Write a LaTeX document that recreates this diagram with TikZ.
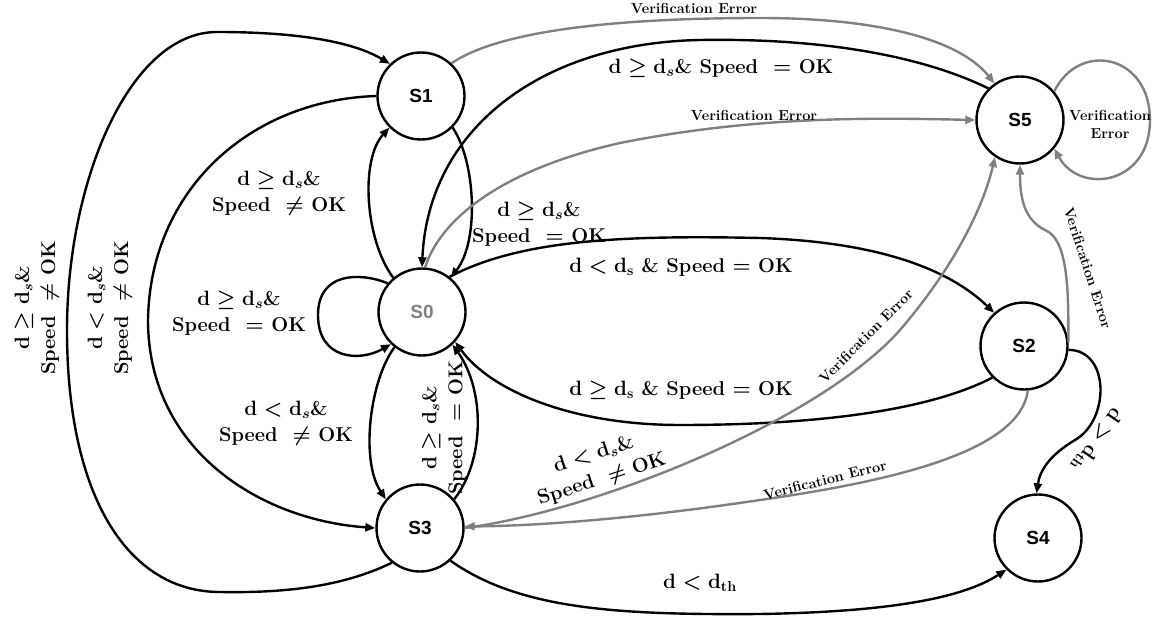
\documentclass[tikz,border=0pt]{standalone}
\usepackage{fontspec}
\newfontfamily\statefont{Liberation Sans}
\usetikzlibrary{arrows.meta}
\definecolor{errgray}{gray}{0.5}

\begin{document}
\begin{tikzpicture}[x=1pt,y=-1pt,
  state/.style={circle,draw,line width=2.4pt,minimum size=87pt,inner sep=0pt,
    font=\statefont\bfseries\fontsize{19}{21}\selectfont},
  tr/.style={line width=2.4pt,-{Triangle[length=10pt,width=8pt]}},
  err/.style={tr,draw=errgray},
  cond/.style={font=\fontsize{20}{26}\selectfont\bfseries\boldmath,align=center,inner sep=1pt},
  errlbl/.style={font=\fontsize{14.5}{18}\selectfont\bfseries,align=center,inner sep=1pt},
]
\useasboundingbox (0,0) rectangle (1154,623);

% states
\node[state] (S1) at (421,96) {S1};
\node[state,text=errgray] (S0) at (422,312) {S0};
\node[state] (S3) at (420,528) {S3};
\node[state] (S5) at (1020,120) {S5};
\node[state] (S2) at (1024,346) {S2};
\node[state] (S4) at (1038,538) {S4};

% left-hand transitions
\draw[tr] (S3.231) .. controls (340,588) and (280,593) .. (220,592)
  .. controls (130,592) and (67,500) .. (67,330)
  .. controls (67,180) and (130,32) .. (217,32)
  .. controls (290,32) and (350,40) .. (S1.134);
\draw[tr] (S1.180) .. controls (250,100) and (150,190) .. (148,320)
  .. controls (148,450) and (260,520) .. (S3.180);
\draw[tr] (S0.130) .. controls (365,240) and (360,160) .. (S1.225);
\draw[tr] (S1.315) .. controls (475,160) and (480,240) .. (S0.50);
\draw[tr] (S0.140) .. controls (360,272) and (318,272) .. (318,315)
  .. controls (318,360) and (360,362) .. (S0.226);
\draw[tr] (S0.232) .. controls (370,380) and (360,460) .. (S3.140);
\draw[tr] (S3.40) .. controls (485,460) and (485,390) .. (S0.-47);

% long transitions
\draw[tr] (S5.135) .. controls (920,55) and (820,38) .. (700,40)
  .. controls (540,43) and (428,130) .. (S0.90);
\draw[tr] (S2.225) .. controls (930,410) and (820,425) .. (680,425)
  .. controls (570,425) and (490,390) .. (S0.-42);
\draw[tr] (S0.52) .. controls (520,240) and (620,235) .. (760,238)
  .. controls (880,242) and (950,270) .. (S2.132);
\draw[tr] (S2.-5) .. controls (1110,350) and (1110,420) .. (1075,440)
  .. controls (1050,455) and (1040,470) .. (S4.92);
\draw[tr] (S3.-47) .. controls (520,610) and (620,615) .. (760,614)
  .. controls (880,612) and (960,600) .. (S4.-135);

% verification error transitions
\draw[err] (S1.47) .. controls (500,30) and (620,18) .. (760,18)
  .. controls (880,18) and (960,40) .. (S5.125);
\draw[err] (S0.86) .. controls (440,220) and (500,170) .. (620,143)
  .. controls (760,115) and (880,118) .. (S5.180);
\draw[err] (S3.0) .. controls (600,510) and (820,420) .. (900,330)
  .. controls (960,260) and (985,200) .. (S5.236);
\draw[err] (S2.-85) .. controls (1020,450) and (900,480) .. (760,500)
  .. controls (640,518) and (540,526) .. (S3.2);
\draw[err] (S2.5) .. controls (1068,300) and (1070,240) .. (1045,230)
  .. controls (1025,220) and (1020,200) .. (S5.-90);
\draw[err] (S5.40) .. controls (1080,40) and (1150,55) .. (1150,120)
  .. controls (1150,185) and (1080,195) .. (S5.-40);

% condition labels
\node[cond,rotate=90] (c1) at (37,308) {$\mathbf{d}\geq\mathbf{d}_s$\&\\Speed \ $\neq$ OK};
\node[cond,rotate=90] (c2) at (110,308) {$\mathbf{d}<\mathbf{d}_s$\&\\Speed \ $\neq$ OK};
\node[cond] (c3) at (279,193) {$\mathbf{d}\geq\mathbf{d}_s$\&\\Speed \ $\neq$ OK};
\node[cond] (c4) at (239,313) {$\mathbf{d}\geq\mathbf{d}_s$\&\\Speed \ $=$ OK};
\node[cond] (c5) at (286,423) {$\mathbf{d}<\mathbf{d}_s$\&\\Speed \ $\neq$ OK};
\node[cond,rotate=90] (c6) at (444,428) {$\mathbf{d}\geq\mathbf{d}_s$\&\\Speed \ $=$ OK};
\node[cond] (c7) at (539,224) {$\mathbf{d}\geq\mathbf{d}_s$\&\\Speed \ $=$ OK};
\node[cond] (c8) at (721,68) {$\mathbf{d}\geq\mathbf{d}_s$\& Speed \ $=$ OK};
\node[cond] (c9) at (681,267) {$\mathbf{d}<\mathbf{d}_{\mathbf{s}}$ \& Speed $=$ OK};
\node[cond] (c10) at (681,390) {$\mathbf{d}\geq\mathbf{d}_{\mathbf{s}}$ \& Speed $=$ OK};
\node[cond,rotate=18] (c11) at (598,467) {$\mathbf{d}<\mathbf{d}_s$\&\\Speed \ $\neq$ OK};
\node[cond] (c12) at (700,583) {$\mathbf{d}<\mathbf{d}_{\mathbf{th}}$};
\node[cond,rotate=-124] (c13) at (1097,440) {$\mathbf{d}>\mathbf{d}_{\mathbf{th}}$};

% error labels
\node[errlbl] (e1) at (694,8) {Verification Error};
\node[errlbl] (e2) at (754,115) {Verification Error};
\node[errlbl,rotate=45] (e3) at (866,336) {Verification Error};
\node[errlbl,rotate=14] (e4) at (825,480) {Verification Error};
\node[errlbl,rotate=-72] (e5) at (1088,268) {Verification Error};
\node[errlbl] (e6) at (1110,124) {Verification\\Error};
\end{tikzpicture}
\end{document}
